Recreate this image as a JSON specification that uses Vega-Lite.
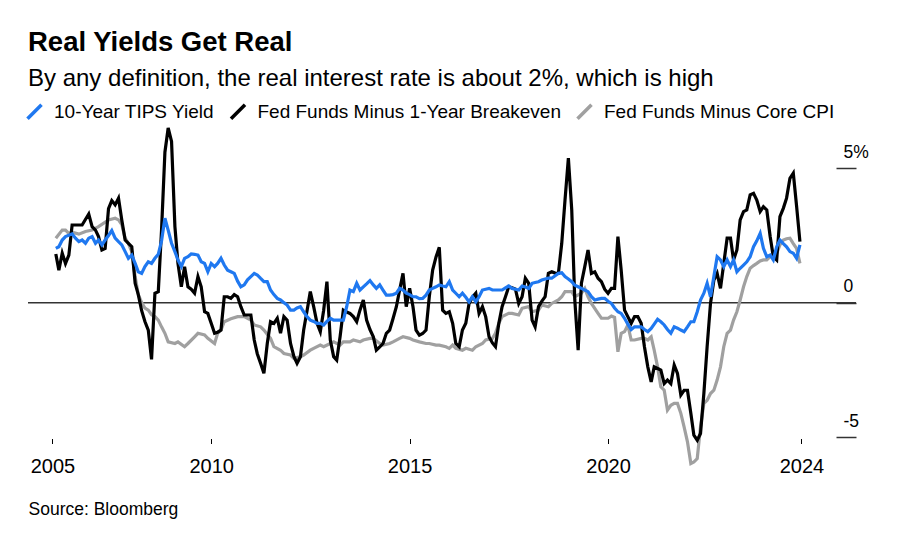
{
  "$schema": "https://vega.github.io/schema/vega-lite/v6.json",
  "width": 828,
  "height": 309,
  "autosize": {"type": "none"},
  "padding": {"left": 28, "top": 128, "right": 44, "bottom": 121},
  "background": "white",
  "config": {"view": {"stroke": null}, "font": "Liberation Sans"},
  "title": {
    "text": "Real Yields Get Real",
    "subtitle": "By any definition, the real interest rate is about 2%, which is high",
    "anchor": "start",
    "frame": "group",
    "font": "Liberation Sans",
    "fontSize": 27.5,
    "fontWeight": "bold",
    "color": "#000000",
    "subtitleFont": "Liberation Sans",
    "subtitleFontSize": 24,
    "subtitleColor": "#000000",
    "subtitlePadding": 11,
    "offset": 11
  },
  "datasets": {
    "ffbe": [
      {"d":"2006-02","v":1.81},{"d":"2006-03","v":1.21},{"d":"2006-04","v":1.84},{"d":"2006-05","v":1.46},{"d":"2006-06","v":1.77},{"d":"2006-07","v":2.89},{"d":"2006-10","v":2.89},{"d":"2006-12","v":3.30},
      {"d":"2007-01","v":2.83},{"d":"2007-02","v":2.70},{"d":"2007-03","v":2.46},{"d":"2007-04","v":1.96},{"d":"2007-05","v":2.02},{"d":"2007-06","v":3.5},{"d":"2007-07","v":3.8},{"d":"2007-08","v":3.64},{"d":"2007-09","v":3.89},{"d":"2007-10","v":3.08},{"d":"2007-11","v":2.33},{"d":"2007-12","v":2.21},
      {"d":"2008-01","v":2.08},{"d":"2008-02","v":0.72},{"d":"2008-03","v":0.3},{"d":"2008-04","v":-0.3},{"d":"2008-05","v":-0.7},{"d":"2008-06","v":-1.02},{"d":"2008-07","v":-2.11},{"d":"2008-08","v":0.35},{"d":"2008-09","v":0.41},{"d":"2008-10","v":2.70},{"d":"2008-11","v":5.6},{"d":"2008-12","v":6.5},
      {"d":"2009-01","v":6.0},{"d":"2009-02","v":2.83},{"d":"2009-03","v":1.46},{"d":"2009-04","v":0.59},{"d":"2009-05","v":1.34},{"d":"2009-06","v":0.59},{"d":"2009-07","v":0.5},{"d":"2009-08","v":0.35},{"d":"2009-09","v":0.97},{"d":"2009-10","v":0.59},{"d":"2009-11","v":-0.34},{"d":"2009-12","v":-0.40},
      {"d":"2010-01","v":-0.77},{"d":"2010-02","v":-1.14},{"d":"2010-03","v":-1.1},{"d":"2010-04","v":-1.02},{"d":"2010-05","v":0.22},{"d":"2010-06","v":0.22},{"d":"2010-07","v":0.16},{"d":"2010-08","v":0.30},{"d":"2010-09","v":0.22},{"d":"2010-10","v":-0.15},{"d":"2010-11","v":-0.46},{"d":"2010-12","v":-0.46},
      {"d":"2011-01","v":-0.46},{"d":"2011-02","v":-1.39},{"d":"2011-03","v":-1.9},{"d":"2011-04","v":-2.26},{"d":"2011-05","v":-2.63},{"d":"2011-06","v":-1.52},{"d":"2011-07","v":-0.71},{"d":"2011-08","v":-0.77},{"d":"2011-09","v":-0.58},{"d":"2011-10","v":-1.14},{"d":"2011-11","v":-0.52},{"d":"2011-12","v":-0.65},
      {"d":"2012-01","v":-1.52},{"d":"2012-02","v":-2.0},{"d":"2012-03","v":-2.26},{"d":"2012-04","v":-2.01},{"d":"2012-05","v":-1.02},{"d":"2012-06","v":-0.3},{"d":"2012-07","v":0.41},{"d":"2012-08","v":-0.15},{"d":"2012-09","v":-0.77},{"d":"2012-10","v":-1.08},{"d":"2012-11","v":-0.28},{"d":"2012-12","v":0.78},
      {"d":"2013-01","v":-1.39},{"d":"2013-02","v":-2.01},{"d":"2013-03","v":-2.14},{"d":"2013-04","v":-1.27},{"d":"2013-05","v":-0.28},{"d":"2013-06","v":-0.35},{"d":"2013-07","v":-0.40},{"d":"2013-08","v":-0.52},{"d":"2013-09","v":-0.71},{"d":"2013-10","v":-0.28},{"d":"2013-11","v":0.10},{"d":"2013-12","v":-0.65},
      {"d":"2014-01","v":-1.0},{"d":"2014-02","v":-1.27},{"d":"2014-03","v":-1.77},{"d":"2014-04","v":-1.65},{"d":"2014-05","v":-1.52},{"d":"2014-06","v":-1.14},{"d":"2014-07","v":-1.02},{"d":"2014-08","v":-0.6},{"d":"2014-09","v":-0.15},{"d":"2014-10","v":0.47},{"d":"2014-11","v":1.09},{"d":"2014-12","v":-0.15},
      {"d":"2015-01","v":0.53},{"d":"2015-02","v":-0.15},{"d":"2015-03","v":-1.02},{"d":"2015-04","v":-1.21},{"d":"2015-05","v":-1.15},{"d":"2015-06","v":-1.02},{"d":"2015-07","v":0.22},{"d":"2015-08","v":1.21},{"d":"2015-09","v":1.7},{"d":"2015-10","v":2.06},{"d":"2015-11","v":-0.28},{"d":"2015-12","v":-0.40},
      {"d":"2016-01","v":-0.34},{"d":"2016-02","v":-0.77},{"d":"2016-03","v":-1.52},{"d":"2016-04","v":-1.64},{"d":"2016-05","v":-1.02},{"d":"2016-06","v":-0.77},{"d":"2016-07","v":-0.03},{"d":"2016-08","v":0.2},{"d":"2016-09","v":0.35},{"d":"2016-10","v":-0.40},{"d":"2016-11","v":-0.15},{"d":"2016-12","v":-0.52},
      {"d":"2017-01","v":-1.27},{"d":"2017-02","v":-1.5},{"d":"2017-03","v":-1.64},{"d":"2017-04","v":-0.77},{"d":"2017-05","v":-0.15},{"d":"2017-06","v":0.22},{"d":"2017-07","v":0.59},{"d":"2017-08","v":0.55},{"d":"2017-09","v":0.5},{"d":"2017-10","v":-0.03},{"d":"2017-11","v":0.22},{"d":"2017-12","v":0.91},
      {"d":"2018-01","v":0.72},{"d":"2018-02","v":-0.65},{"d":"2018-03","v":-0.90},{"d":"2018-04","v":-0.15},{"d":"2018-05","v":0.05},{"d":"2018-06","v":0.22},{"d":"2018-07","v":1.09},{"d":"2018-08","v":1.15},{"d":"2018-09","v":1.1},{"d":"2018-10","v":1.09},{"d":"2018-11","v":2.21},{"d":"2018-12","v":3.82},
      {"d":"2019-01","v":5.38},{"d":"2019-02","v":3.45},{"d":"2019-03","v":0.10},{"d":"2019-04","v":-1.77},{"d":"2019-05","v":0.72},{"d":"2019-06","v":1.34},{"d":"2019-07","v":1.96},{"d":"2019-08","v":1.09},{"d":"2019-09","v":1.15},{"d":"2019-10","v":0.91},{"d":"2019-11","v":0.78},{"d":"2019-12","v":0.5},
      {"d":"2020-01","v":0.35},{"d":"2020-02","v":0.53},{"d":"2020-03","v":0.53},{"d":"2020-04","v":2.46},{"d":"2020-05","v":1.21},{"d":"2020-06","v":-0.28},{"d":"2020-07","v":-0.52},{"d":"2020-08","v":-0.77},{"d":"2020-09","v":-0.52},{"d":"2020-10","v":-0.52},{"d":"2020-11","v":-0.77},{"d":"2020-12","v":-1.64},
      {"d":"2021-01","v":-2.39},{"d":"2021-02","v":-2.95},{"d":"2021-03","v":-2.39},{"d":"2021-04","v":-2.45},{"d":"2021-05","v":-2.51},{"d":"2021-06","v":-3.01},{"d":"2021-07","v":-2.88},{"d":"2021-08","v":-3.01},{"d":"2021-09","v":-2.32},{"d":"2021-10","v":-2.63},{"d":"2021-11","v":-3.44},{"d":"2021-12","v":-3.26},
      {"d":"2022-01","v":-3.26},{"d":"2022-02","v":-4.12},{"d":"2022-03","v":-4.93},{"d":"2022-04","v":-5.12},{"d":"2022-05","v":-4.87},{"d":"2022-06","v":-3.38},{"d":"2022-07","v":-1.64},{"d":"2022-08","v":-0.03},{"d":"2022-09","v":0.84},{"d":"2022-10","v":1.09},{"d":"2022-11","v":0.53},{"d":"2022-12","v":1.46},
      {"d":"2023-01","v":2.40},{"d":"2023-02","v":2.40},{"d":"2023-03","v":1.59},{"d":"2023-04","v":1.96},{"d":"2023-05","v":3.08},{"d":"2023-06","v":3.39},{"d":"2023-07","v":3.45},{"d":"2023-08","v":4.01},{"d":"2023-09","v":4.07},{"d":"2023-10","v":3.82},{"d":"2023-11","v":3.39},{"d":"2023-12","v":3.57},
      {"d":"2024-01","v":3.45},{"d":"2024-02","v":2.46},{"d":"2024-03","v":1.71},{"d":"2024-04","v":1.59},{"d":"2024-05","v":3.20},{"d":"2024-06","v":3.51},{"d":"2024-07","v":3.89},{"d":"2024-08","v":4.63},{"d":"2024-09","v":4.82},{"d":"2024-10","v":3.6},{"d":"2024-11","v":2.27}
    ],
    "tips": [
      {"d":"2006-02","v":2.02},{"d":"2006-03","v":2.08},{"d":"2006-04","v":2.33},{"d":"2006-05","v":2.46},{"d":"2006-07","v":2.56},{"d":"2006-08","v":2.40},{"d":"2006-09","v":2.27},{"d":"2006-10","v":2.33},{"d":"2006-11","v":2.21},{"d":"2006-12","v":2.40},
      {"d":"2007-01","v":2.46},{"d":"2007-02","v":2.21},{"d":"2007-03","v":2.33},{"d":"2007-04","v":2.15},{"d":"2007-05","v":2.33},{"d":"2007-06","v":2.5},{"d":"2007-07","v":2.68},{"d":"2007-08","v":2.40},{"d":"2007-09","v":2.27},{"d":"2007-10","v":2.15},{"d":"2007-11","v":1.9},{"d":"2007-12","v":1.65},
      {"d":"2008-01","v":1.77},{"d":"2008-02","v":1.46},{"d":"2008-03","v":1.15},{"d":"2008-04","v":1.09},{"d":"2008-05","v":1.34},{"d":"2008-06","v":1.52},{"d":"2008-07","v":1.46},{"d":"2008-08","v":1.65},{"d":"2008-09","v":1.8},{"d":"2008-10","v":2.3},{"d":"2008-11","v":3.14},{"d":"2008-12","v":2.70},
      {"d":"2009-01","v":2.21},{"d":"2009-02","v":1.90},{"d":"2009-03","v":1.59},{"d":"2009-04","v":1.34},{"d":"2009-05","v":1.65},{"d":"2009-06","v":1.71},{"d":"2009-07","v":1.81},{"d":"2009-08","v":1.8},{"d":"2009-09","v":1.77},{"d":"2009-10","v":1.52},{"d":"2009-11","v":1.46},{"d":"2009-12","v":1.15},
      {"d":"2010-01","v":1.46},{"d":"2010-02","v":1.34},{"d":"2010-03","v":1.46},{"d":"2010-04","v":1.65},{"d":"2010-05","v":1.40},{"d":"2010-06","v":1.21},{"d":"2010-07","v":1.15},{"d":"2010-08","v":1.09},{"d":"2010-09","v":0.8},{"d":"2010-10","v":0.59},{"d":"2010-11","v":0.66},{"d":"2010-12","v":0.85},
      {"d":"2011-01","v":0.97},{"d":"2011-02","v":1.09},{"d":"2011-03","v":1.03},{"d":"2011-04","v":0.9},{"d":"2011-05","v":0.78},{"d":"2011-06","v":0.78},{"d":"2011-07","v":0.47},{"d":"2011-08","v":0.3},{"d":"2011-09","v":0.16},{"d":"2011-10","v":0.10},{"d":"2011-11","v":0.0},{"d":"2011-12","v":-0.09},
      {"d":"2012-01","v":-0.28},{"d":"2012-02","v":-0.28},{"d":"2012-03","v":-0.2},{"d":"2012-04","v":-0.15},{"d":"2012-05","v":-0.34},{"d":"2012-06","v":-0.52},{"d":"2012-07","v":-0.65},{"d":"2012-08","v":-0.7},{"d":"2012-09","v":-0.77},{"d":"2012-10","v":-0.77},{"d":"2012-11","v":-0.83},{"d":"2012-12","v":-0.7},
      {"d":"2013-01","v":-0.58},{"d":"2013-02","v":-0.65},{"d":"2013-03","v":-0.65},{"d":"2013-04","v":-0.65},{"d":"2013-05","v":-0.65},{"d":"2013-06","v":-0.15},{"d":"2013-07","v":0.47},{"d":"2013-08","v":0.41},{"d":"2013-09","v":0.72},{"d":"2013-10","v":0.47},{"d":"2013-11","v":0.59},{"d":"2013-12","v":0.7},
      {"d":"2014-01","v":0.82},{"d":"2014-02","v":0.66},{"d":"2014-03","v":0.53},{"d":"2014-04","v":0.66},{"d":"2014-05","v":0.47},{"d":"2014-06","v":0.28},{"d":"2014-07","v":0.28},{"d":"2014-08","v":0.3},{"d":"2014-09","v":0.35},{"d":"2014-10","v":0.53},{"d":"2014-11","v":0.47},{"d":"2014-12","v":0.35},
      {"d":"2015-01","v":0.3},{"d":"2015-02","v":0.22},{"d":"2015-03","v":0.22},{"d":"2015-04","v":0.15},{"d":"2015-05","v":0.16},{"d":"2015-06","v":0.28},{"d":"2015-07","v":0.47},{"d":"2015-08","v":0.53},{"d":"2015-09","v":0.59},{"d":"2015-10","v":0.66},{"d":"2015-11","v":0.62},{"d":"2015-12","v":0.59},
      {"d":"2016-01","v":0.78},{"d":"2016-02","v":0.47},{"d":"2016-03","v":0.35},{"d":"2016-04","v":0.22},{"d":"2016-05","v":0.35},{"d":"2016-06","v":0.2},{"d":"2016-07","v":0.03},{"d":"2016-08","v":0.22},{"d":"2016-09","v":0.03},{"d":"2016-10","v":0.22},{"d":"2016-11","v":0.47},{"d":"2016-12","v":0.5},
      {"d":"2017-01","v":0.53},{"d":"2017-02","v":0.47},{"d":"2017-03","v":0.47},{"d":"2017-04","v":0.47},{"d":"2017-05","v":0.47},{"d":"2017-06","v":0.55},{"d":"2017-07","v":0.62},{"d":"2017-08","v":0.53},{"d":"2017-09","v":0.5},{"d":"2017-10","v":0.47},{"d":"2017-11","v":0.62},{"d":"2017-12","v":0.58},
      {"d":"2018-01","v":0.53},{"d":"2018-02","v":0.72},{"d":"2018-03","v":0.75},{"d":"2018-04","v":0.78},{"d":"2018-05","v":0.84},{"d":"2018-06","v":0.88},{"d":"2018-07","v":0.91},{"d":"2018-08","v":0.91},{"d":"2018-09","v":1.0},{"d":"2018-10","v":1.09},{"d":"2018-11","v":1.11},{"d":"2018-12","v":0.97},
      {"d":"2019-01","v":0.88},{"d":"2019-02","v":0.78},{"d":"2019-03","v":0.65},{"d":"2019-04","v":0.59},{"d":"2019-05","v":0.53},{"d":"2019-06","v":0.47},{"d":"2019-07","v":0.41},{"d":"2019-08","v":0.22},{"d":"2019-09","v":0.10},{"d":"2019-10","v":0.13},{"d":"2019-11","v":0.16},{"d":"2019-12","v":0.16},
      {"d":"2020-01","v":0.05},{"d":"2020-02","v":-0.03},{"d":"2020-03","v":-0.2},{"d":"2020-04","v":-0.34},{"d":"2020-05","v":-0.40},{"d":"2020-06","v":-0.58},{"d":"2020-07","v":-0.8},{"d":"2020-08","v":-1.0},{"d":"2020-09","v":-0.90},{"d":"2020-10","v":-0.9},{"d":"2020-11","v":-0.90},{"d":"2020-12","v":-1.0},
      {"d":"2021-01","v":-1.08},{"d":"2021-02","v":-0.96},{"d":"2021-03","v":-0.8},{"d":"2021-04","v":-0.62},{"d":"2021-05","v":-0.71},{"d":"2021-06","v":-0.83},{"d":"2021-07","v":-1.0},{"d":"2021-08","v":-1.14},{"d":"2021-09","v":-0.90},{"d":"2021-10","v":-0.95},{"d":"2021-11","v":-1.02},{"d":"2021-12","v":-1.08},
      {"d":"2022-01","v":-0.9},{"d":"2022-02","v":-0.71},{"d":"2022-03","v":-0.71},{"d":"2022-04","v":-0.34},{"d":"2022-05","v":0.10},{"d":"2022-06","v":0.35},{"d":"2022-07","v":0.72},{"d":"2022-08","v":0.22},{"d":"2022-09","v":0.97},{"d":"2022-10","v":1.71},{"d":"2022-11","v":1.59},{"d":"2022-12","v":1.34},
      {"d":"2023-01","v":1.59},{"d":"2023-02","v":1.34},{"d":"2023-03","v":1.59},{"d":"2023-04","v":1.15},{"d":"2023-05","v":1.28},{"d":"2023-06","v":1.4},{"d":"2023-07","v":1.52},{"d":"2023-08","v":1.71},{"d":"2023-09","v":2.08},{"d":"2023-10","v":2.3},{"d":"2023-11","v":2.58},{"d":"2023-12","v":2.02},
      {"d":"2024-01","v":1.71},{"d":"2024-02","v":1.77},{"d":"2024-03","v":1.59},{"d":"2024-04","v":2.08},{"d":"2024-05","v":2.33},{"d":"2024-06","v":2.2},{"d":"2024-07","v":2.08},{"d":"2024-08","v":1.9},{"d":"2024-09","v":1.84},{"d":"2024-10","v":1.65},{"d":"2024-11","v":2.15}
    ],
    "ffcpi": [
      {"d":"2006-02","v":2.40},{"d":"2006-04","v":2.70},{"d":"2006-05","v":2.70},{"d":"2006-06","v":2.58},{"d":"2006-07","v":2.62},{"d":"2006-09","v":2.55},{"d":"2006-11","v":2.65},
      {"d":"2007-01","v":2.70},{"d":"2007-03","v":2.83},{"d":"2007-06","v":3.08},{"d":"2007-08","v":3.14},{"d":"2007-09","v":3.08},{"d":"2007-10","v":2.9},{"d":"2007-11","v":2.4},{"d":"2007-12","v":2.2},
      {"d":"2008-01","v":1.9},{"d":"2008-02","v":0.97},{"d":"2008-03","v":0.3},{"d":"2008-04","v":0.0},{"d":"2008-05","v":-0.2},{"d":"2008-06","v":-0.28},{"d":"2008-07","v":-0.45},{"d":"2008-08","v":-0.52},{"d":"2008-09","v":-0.65},{"d":"2008-10","v":-0.9},{"d":"2008-11","v":-1.14},{"d":"2008-12","v":-1.46},
      {"d":"2009-02","v":-1.52},{"d":"2009-03","v":-1.46},{"d":"2009-05","v":-1.64},{"d":"2009-06","v":-1.52},{"d":"2009-08","v":-1.27},{"d":"2009-09","v":-1.14},{"d":"2009-11","v":-1.2},{"d":"2009-12","v":-1.33},
      {"d":"2010-02","v":-1.52},{"d":"2010-03","v":-1.14},{"d":"2010-04","v":-1.02},{"d":"2010-05","v":-0.71},{"d":"2010-07","v":-0.6},{"d":"2010-09","v":-0.52},{"d":"2010-11","v":-0.52},
      {"d":"2011-01","v":-0.65},{"d":"2011-02","v":-0.83},{"d":"2011-04","v":-0.90},{"d":"2011-05","v":-1.02},{"d":"2011-07","v":-1.33},{"d":"2011-08","v":-1.64},{"d":"2011-10","v":-1.77},{"d":"2011-11","v":-1.89},
      {"d":"2012-01","v":-1.95},{"d":"2012-02","v":-2.08},{"d":"2012-04","v":-2.01},{"d":"2012-05","v":-1.95},{"d":"2012-07","v":-1.77},{"d":"2012-08","v":-1.70},{"d":"2012-10","v":-1.58},{"d":"2012-11","v":-1.64},
      {"d":"2013-01","v":-1.52},{"d":"2013-02","v":-1.46},{"d":"2013-04","v":-1.58},{"d":"2013-05","v":-1.46},{"d":"2013-07","v":-1.46},{"d":"2013-08","v":-1.39},{"d":"2013-10","v":-1.46},{"d":"2013-11","v":-1.39},
      {"d":"2014-01","v":-1.33},{"d":"2014-02","v":-1.33},{"d":"2014-04","v":-1.52},{"d":"2014-05","v":-1.58},{"d":"2014-07","v":-1.52},{"d":"2014-08","v":-1.46},{"d":"2014-10","v":-1.33},{"d":"2014-11","v":-1.27},
      {"d":"2015-01","v":-1.33},{"d":"2015-02","v":-1.39},{"d":"2015-04","v":-1.46},{"d":"2015-06","v":-1.52},{"d":"2015-07","v":-1.52},{"d":"2015-09","v":-1.58},{"d":"2015-10","v":-1.58},{"d":"2015-12","v":-1.64},
      {"d":"2016-01","v":-1.70},{"d":"2016-02","v":-1.58},{"d":"2016-03","v":-1.70},{"d":"2016-05","v":-1.77},{"d":"2016-06","v":-1.70},{"d":"2016-08","v":-1.77},{"d":"2016-09","v":-1.64},{"d":"2016-11","v":-1.52},{"d":"2016-12","v":-1.39},
      {"d":"2017-02","v":-1.33},{"d":"2017-03","v":-1.14},{"d":"2017-04","v":-0.77},{"d":"2017-05","v":-0.52},{"d":"2017-07","v":-0.40},{"d":"2017-08","v":-0.40},{"d":"2017-10","v":-0.46},{"d":"2017-11","v":-0.21},
      {"d":"2018-01","v":-0.15},{"d":"2018-02","v":-0.34},{"d":"2018-04","v":-0.28},{"d":"2018-05","v":-0.09},{"d":"2018-07","v":-0.15},{"d":"2018-08","v":-0.03},{"d":"2018-10","v":0.10},{"d":"2018-11","v":0.22},{"d":"2018-12","v":0.41},
      {"d":"2019-02","v":0.41},{"d":"2019-03","v":0.22},{"d":"2019-05","v":0.35},{"d":"2019-06","v":0.53},{"d":"2019-07","v":0.22},{"d":"2019-08","v":-0.03},{"d":"2019-10","v":-0.40},{"d":"2019-11","v":-0.58},
      {"d":"2020-01","v":-0.58},{"d":"2020-02","v":-0.5},{"d":"2020-03","v":-0.55},{"d":"2020-04","v":-1.83},{"d":"2020-05","v":-1.14},{"d":"2020-06","v":-1.08},{"d":"2020-07","v":-0.83},{"d":"2020-08","v":-1.39},{"d":"2020-09","v":-1.39},{"d":"2020-11","v":-1.33},{"d":"2020-12","v":-1.33},
      {"d":"2021-01","v":-1.39},{"d":"2021-02","v":-1.27},{"d":"2021-03","v":-1.77},{"d":"2021-04","v":-2.39},{"d":"2021-05","v":-3.13},{"d":"2021-06","v":-3.26},{"d":"2021-07","v":-4.00},{"d":"2021-08","v":-3.82},{"d":"2021-09","v":-3.75},{"d":"2021-10","v":-3.75},{"d":"2021-11","v":-4.12},{"d":"2021-12","v":-4.62},
      {"d":"2022-01","v":-5.18},{"d":"2022-02","v":-5.99},{"d":"2022-03","v":-5.93},{"d":"2022-04","v":-5.80},{"d":"2022-05","v":-4.62},{"d":"2022-06","v":-3.75},{"d":"2022-07","v":-3.63},{"d":"2022-08","v":-3.38},{"d":"2022-09","v":-3.26},{"d":"2022-10","v":-2.88},{"d":"2022-11","v":-2.39},{"d":"2022-12","v":-1.64},
      {"d":"2023-01","v":-1.14},{"d":"2023-02","v":-1.02},{"d":"2023-03","v":-0.65},{"d":"2023-04","v":-0.34},{"d":"2023-05","v":0.10},{"d":"2023-06","v":0.59},{"d":"2023-07","v":0.97},{"d":"2023-08","v":1.28},{"d":"2023-09","v":1.38},{"d":"2023-10","v":1.46},{"d":"2023-11","v":1.55},{"d":"2023-12","v":1.59},
      {"d":"2024-01","v":1.59},{"d":"2024-02","v":1.71},{"d":"2024-03","v":1.78},{"d":"2024-04","v":1.84},{"d":"2024-05","v":2.15},{"d":"2024-06","v":2.33},{"d":"2024-07","v":2.38},{"d":"2024-08","v":2.40},{"d":"2024-09","v":2.2},{"d":"2024-10","v":2.02},{"d":"2024-11","v":1.46}
    ],
    "zero": [{"v": 0}]
  },
  "layer": [
    {
      "data": {"name": "zero"},
      "mark": {"type": "rule", "color": "#333333", "strokeWidth": 1.5},
      "encoding": {
        "y": {
          "field": "v",
          "type": "quantitative",
          "scale": {"domain": [-5, 6.5], "nice": false, "zero": false},
          "axis": {
            "orient": "right",
            "title": null,
            "values": [-5, 0, 5],
            "labelExpr": "datum.value > 0 ? datum.value + '%' : '' + datum.value",
            "domain": false,
            "grid": false,
            "ticks": true,
            "tickSize": -20,
            "tickColor": "#333333",
            "tickWidth": 1.5,
            "labelAlign": "left",
            "labelBaseline": "alphabetic",
            "labelOffset": -11,
            "labelPadding": 7,
            "labelFont": "Liberation Sans",
            "labelFontSize": 17.5,
            "labelColor": "#000000"
          }
        }
      }
    },
    {
      "data": {"name": "ffcpi"},
      "mark": {"type": "line", "strokeWidth": 3.2},
      "encoding": {
        "x": {
          "field": "d",
          "type": "temporal",
          "scale": {"domain": [{"year": 2005, "month": 5, "date": 21, "utc": true}, {"year": 2026, "month": 4, "date": 1, "utc": true}], "nice": false},
          "axis": {
            "values": [
              {"year": 2006, "month": 1, "date": 1, "utc": true},
              {"year": 2010, "month": 1, "date": 1, "utc": true},
              {"year": 2015, "month": 1, "date": 1, "utc": true},
              {"year": 2020, "month": 1, "date": 1, "utc": true},
              {"year": 2024, "month": 11, "date": 15, "utc": true}
            ],
            "labelExpr": "utcyear(datum.value) == 2006 ? '2005' : '' + utcyear(datum.value)",
            "domain": false,
            "grid": false,
            "ticks": true,
            "tickSize": 5,
            "tickColor": "#000000",
            "tickWidth": 1,
            "offset": 1.5,
            "labelFont": "Liberation Sans",
            "labelFontSize": 20,
            "labelColor": "#000000",
            "labelPadding": 13,
            "labelFlush": false,
            "labelOverlap": false,
            "title": "Source: Bloomberg",
            "titleFont": "Liberation Sans",
            "titleFontSize": 17.5,
            "titleFontWeight": "normal",
            "titleColor": "#000000",
            "titleAnchor": "start",
            "titleAlign": "left",
            "titleBaseline": "alphabetic",
            "titleX": 0,
            "titleY": 76
          }
        },
        "y": {"field": "v", "type": "quantitative"},
        "color": {
          "datum": "Fed Funds Minus Core CPI",
          "type": "nominal",
          "scale": {
            "domain": ["10-Year TIPS Yield", "Fed Funds Minus 1-Year Breakeven", "Fed Funds Minus Core CPI"],
            "range": ["#1f78f0", "#000000", "#a0a0a0"]
          },
          "legend": {
            "orient": "none",
            "legendX": -3,
            "legendY": -26,
            "direction": "horizontal",
            "title": null,
            "padding": 0,
            "symbolType": "M-1,1L1,-1",
            "symbolSize": 196,
            "symbolStrokeWidth": 3.5,
            "labelFont": "Liberation Sans",
            "labelFontSize": 19,
            "labelColor": "#000000",
            "labelOffset": 10,
            "labelLimit": 500,
            "columnPadding": 8.5
          }
        }
      }
    },
    {
      "data": {"name": "ffbe"},
      "mark": {"type": "line", "strokeWidth": 3.2},
      "encoding": {
        "x": {"field": "d", "type": "temporal"},
        "y": {"field": "v", "type": "quantitative"},
        "color": {
          "datum": "Fed Funds Minus 1-Year Breakeven",
          "type": "nominal",
          "scale": {
            "domain": ["10-Year TIPS Yield", "Fed Funds Minus 1-Year Breakeven", "Fed Funds Minus Core CPI"],
            "range": ["#1f78f0", "#000000", "#a0a0a0"]
          }
        }
      }
    },
    {
      "data": {"name": "tips"},
      "mark": {"type": "line", "strokeWidth": 3.2},
      "encoding": {
        "x": {"field": "d", "type": "temporal"},
        "y": {"field": "v", "type": "quantitative"},
        "color": {
          "datum": "10-Year TIPS Yield",
          "type": "nominal",
          "scale": {
            "domain": ["10-Year TIPS Yield", "Fed Funds Minus 1-Year Breakeven", "Fed Funds Minus Core CPI"],
            "range": ["#1f78f0", "#000000", "#a0a0a0"]
          }
        }
      }
    }
  ]
}
